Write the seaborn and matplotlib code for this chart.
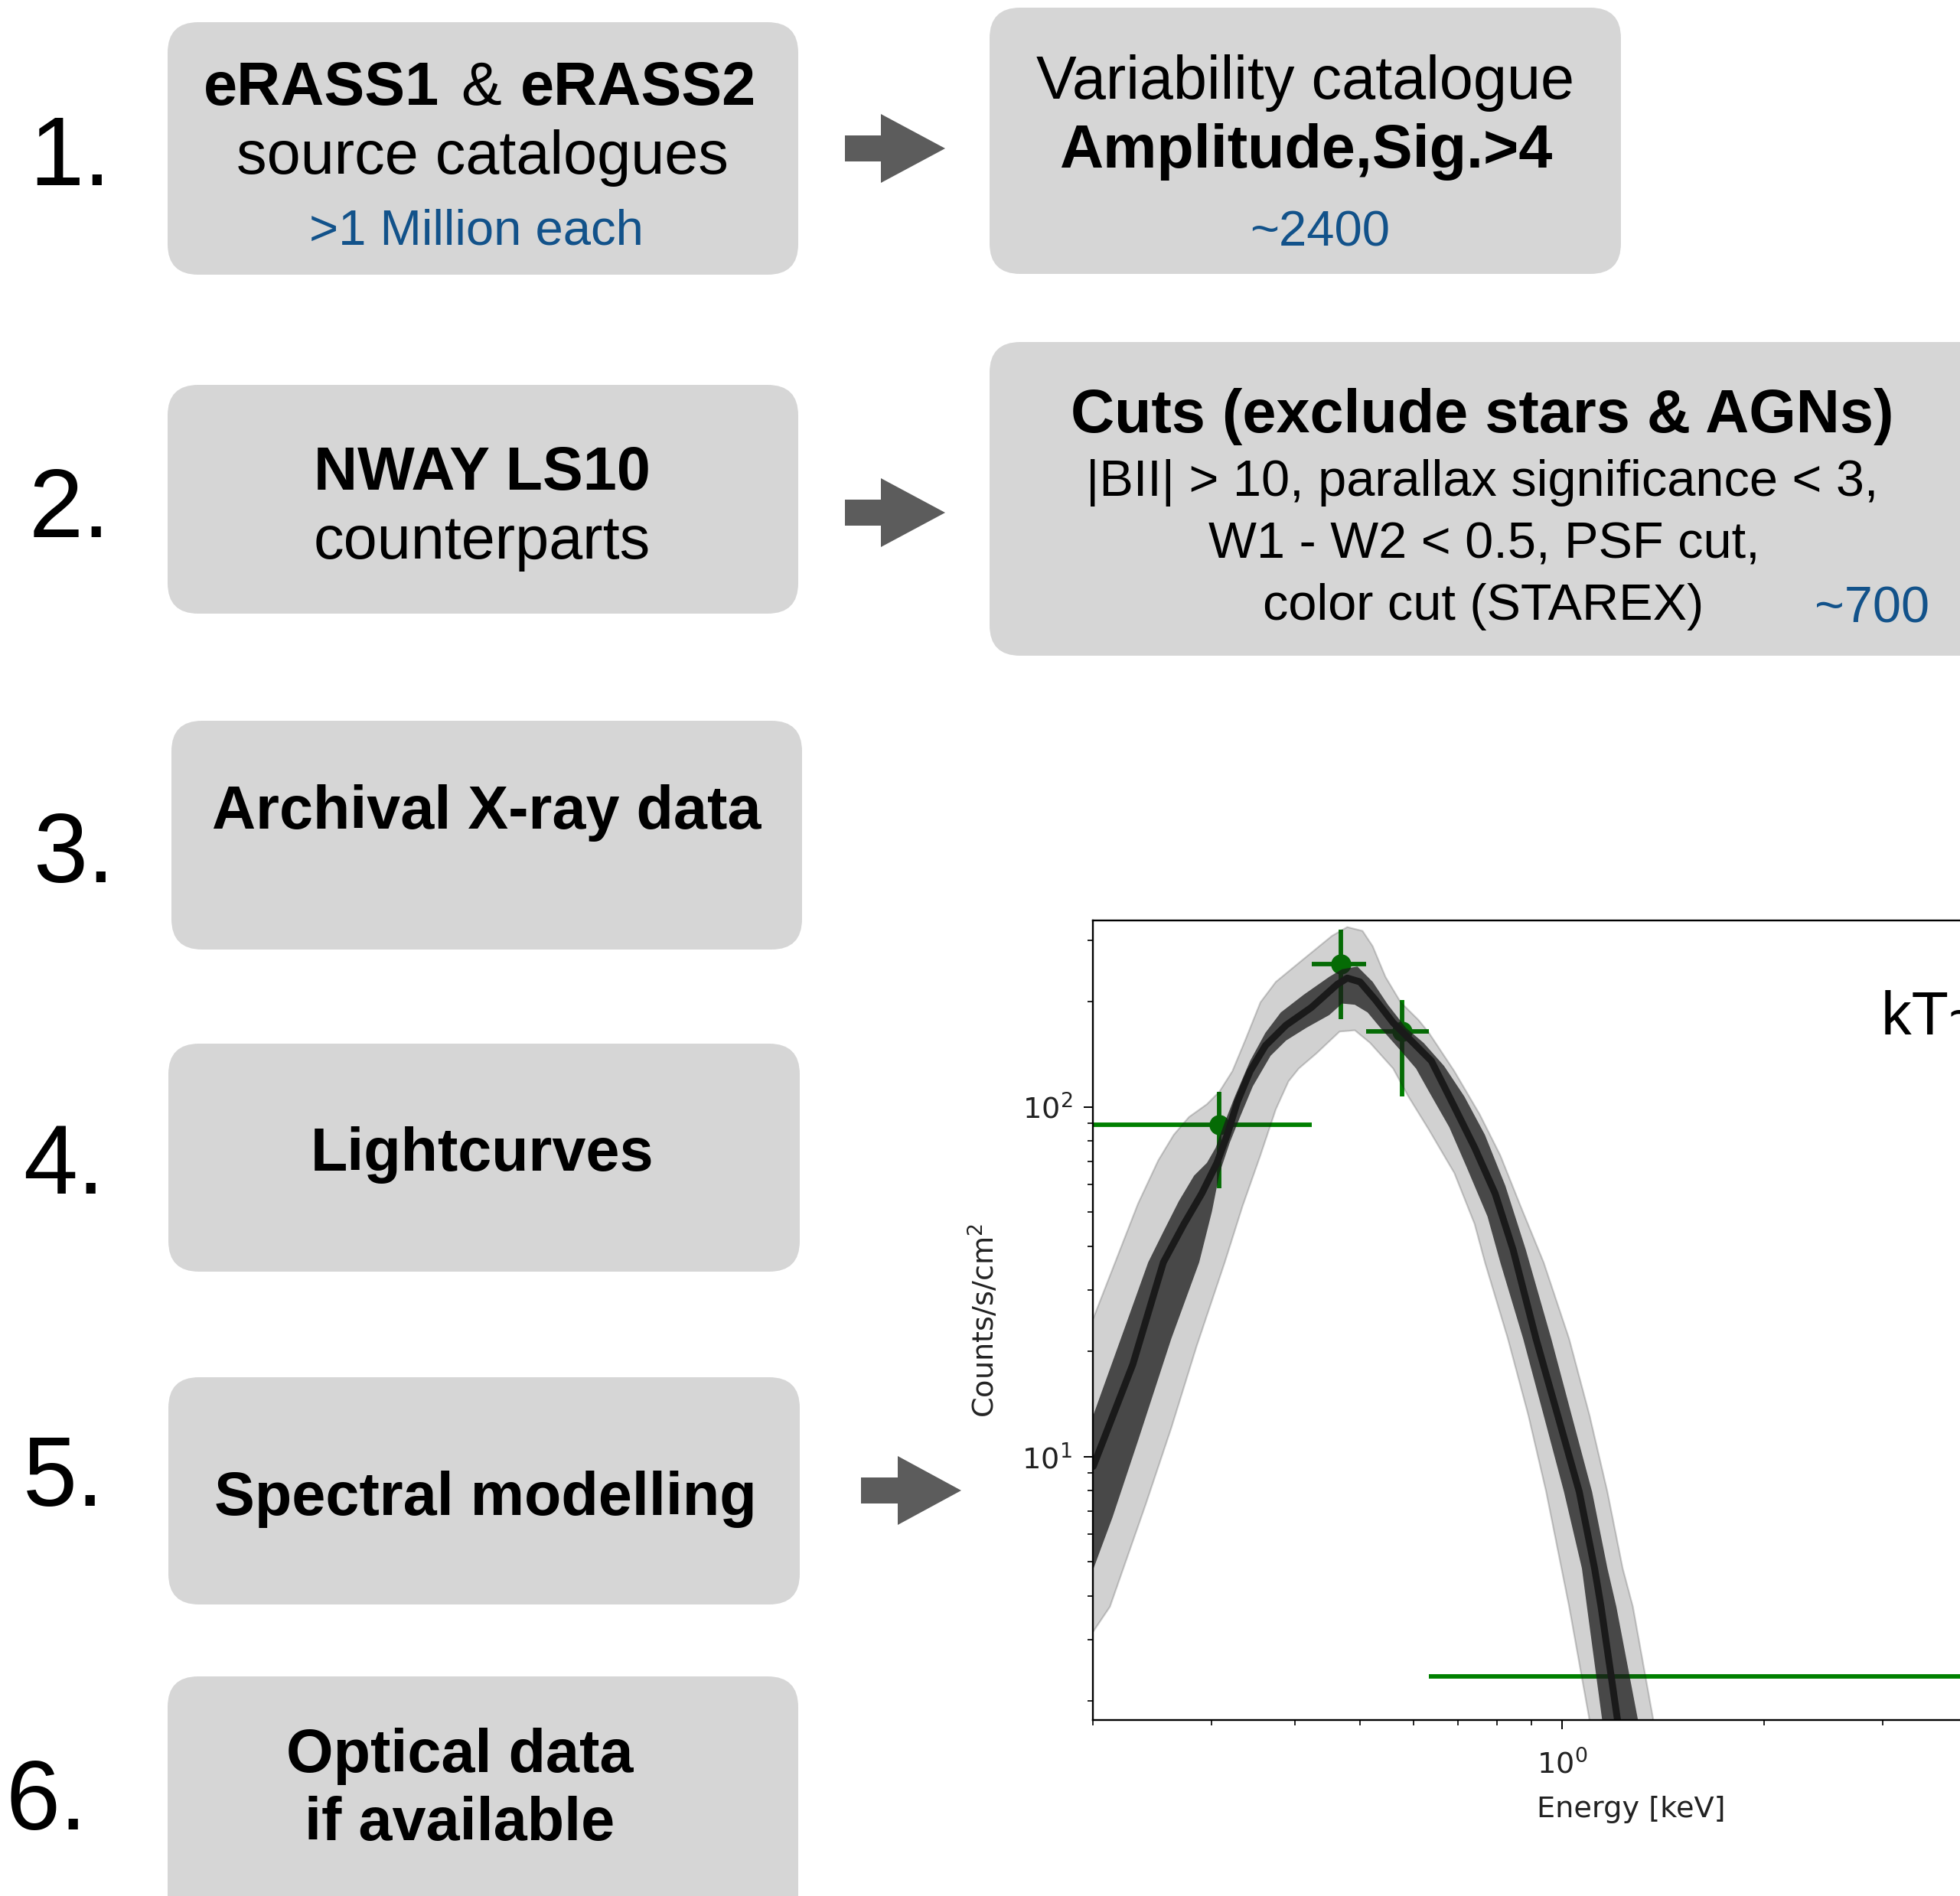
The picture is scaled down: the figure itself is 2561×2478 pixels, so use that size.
import numpy as np
import matplotlib
matplotlib.use("Agg")
import matplotlib.pyplot as plt
import seaborn as sns
from matplotlib.patches import FancyBboxPatch, Polygon
from matplotlib.ticker import LogLocator, NullFormatter

# ---------------- data ----------------
# model median curve
median_energy = [0.2001, 0.2292, 0.2545, 0.2731, 0.2903, 0.3059, 0.3168, 0.3281, 0.3427, 0.3612,
                 0.3877, 0.4230, 0.4619, 0.4783, 0.4997, 0.5266, 0.5598, 0.6003, 0.6383, 0.6906,
                 0.7404, 0.7943, 0.8447, 0.9140, 0.9845, 1.0602, 1.1173, 1.1424, 1.1830, 1.2089, 1.2445]
median_counts = [9.38, 18.37, 35.96, 46.26, 56.57, 69.23, 83.28, 103.6, 126.7, 149.9,
                 171.5, 192.8, 224.3, 233.9, 228.1, 202.8, 174.3, 152.5, 135.5, 100.2,
                 76.56, 56.57, 39.11, 21.73, 13.13, 7.93, 4.79, 3.72, 2.35, 1.76, 1.0]

# outer (light) band
light_hi_energy = [0.2001, 0.2157, 0.2333, 0.2501, 0.2637, 0.2779, 0.2955, 0.3086, 0.3225, 0.3369,
                   0.3551, 0.3743, 0.4121, 0.4538, 0.4783, 0.5040, 0.5219, 0.5452, 0.5745, 0.6109,
                   0.6329, 0.6906, 0.7536, 0.8085, 0.8671, 0.9382, 1.0240, 1.0982, 1.1677, 1.2305,
                   1.2744, 1.3672, 1.462]
light_hi_counts = [24.86, 35.96, 52.91, 70.39, 83.28, 93.67, 101.9, 110.8, 126.7, 155.0,
                   199.4, 228.1, 265.5, 308.8, 327.3, 319.1, 288.5, 235.9, 199.4, 177.4,
                   163.1, 126.7, 95.23, 72.80, 52.02, 35.96, 21.73, 13.13, 7.93, 4.79,
                   3.72, 1.76, 0.85]
light_lo_energy = [0.2, 0.2119, 0.2395, 0.2615, 0.2852, 0.3142, 0.3339, 0.3551, 0.3743, 0.3910,
                   0.4050, 0.4305, 0.4659, 0.4909, 0.5174, 0.5598, 0.5899, 0.6329, 0.6906, 0.7404,
                   0.7670, 0.8299, 0.8902, 0.9464, 0.9974, 1.0240, 1.0982, 1.135]
light_lo_counts = [3.155, 3.72, 7.29, 12.07, 20.66, 35.96, 52.02, 72.80, 98.49, 118.5,
                   128.9, 142.5, 164.4, 165.8, 152.5, 128.9, 107.2, 86.10, 64.74, 46.26,
                   35.96, 21.73, 13.13, 7.93, 4.79, 3.72, 1.76, 1.12]

# inner (dark) band
dark_hi_energy = [0.2001, 0.2234, 0.2416, 0.2545, 0.2684, 0.2828, 0.2955, 0.3046, 0.3142, 0.3253,
                  0.3427, 0.3612, 0.3808, 0.4121, 0.4498, 0.4699, 0.4953, 0.5219, 0.5499, 0.5848,
                  0.6218, 0.6667, 0.7148, 0.7670, 0.8228, 0.8824, 0.9632, 1.0328, 1.1079, 1.1677,
                  1.2040, 1.2970, 1.334]
dark_hi_counts = [13.13, 23.63, 35.96, 43.98, 53.81, 63.65, 69.23, 76.56, 90.56, 107.2,
                  135.5, 163.1, 186.5, 209.7, 235.9, 248.0, 252.3, 228.1, 196.2, 168.6,
                  152.5, 131.1, 107.2, 83.28, 59.50, 39.11, 21.73, 13.13, 7.93, 4.79,
                  3.72, 1.76, 1.12]
dark_lo_energy = [0.2, 0.2138, 0.2333, 0.2615, 0.2878, 0.3007, 0.3086, 0.3197, 0.3311, 0.3459,
                  0.3677, 0.3877, 0.4158, 0.4498, 0.4699, 0.4909, 0.5129, 0.5358, 0.5745, 0.6056,
                  0.6329, 0.6787, 0.7213, 0.7738, 0.8085, 0.8746, 0.9382, 1.0060, 1.0698, 1.0885,
                  1.1470, 1.175]
dark_lo_counts = [4.75, 6.71, 11.10, 21.73, 35.96, 50.31, 64.74, 79.19, 93.67, 114.6,
                  140.2, 155.0, 168.6, 183.4, 197.8, 196.2, 186.5, 168.6, 145.0, 128.9,
                  110.8, 87.6, 66.93, 48.65, 35.96, 21.73, 13.13, 7.93, 4.79, 3.72,
                  1.76, 1.1]

# observed data points (binned)
obs_energy = [0.3086, 0.4678, 0.5771, 5.0]
obs_energy_lo = [0.15, 0.4230, 0.5106, 0.6329]
obs_energy_hi = [0.4230, 0.5106, 0.6329, 8.5]
obs_counts = [89.07, 256.6, 164.4, 2.35]
obs_counts_lo = [58.53, 178.8, 107.2, 2.35]
obs_counts_hi = [110.8, 321.9, 202.2, 2.35]

# flowchart texts
step_labels = ["1.", "2.", "3.", "4.", "5.", "6."]
box1_lines = ["eRASS1", "&", "eRASS2", "source catalogues", ">1 Million each"]
boxv_lines = ["Variability catalogue", "Amplitude,Sig.>4", "~2400"]
box2_lines = ["NWAY LS10", "counterparts"]
boxc_lines = ["Cuts (exclude stars & AGNs)", "|BII| > 10, parallax significance < 3,",
              "W1 - W2 < 0.5, PSF cut,", "color cut (STAREX)", "~700"]
box3_lines = ["Archival X-ray data"]
box4_lines = ["Lightcurves"]
box5_lines = ["Spectral modelling"]
box6_lines = ["Optical data", "if available"]
kt_text = "kT~50 eV"

# ---------------- style ----------------
sns.set_theme(style="ticks")
plt.rcParams["font.family"] = ["DejaVu Sans"]
FONT = ["Liberation Sans", "DejaVu Sans"]
BOX_COLOR = "#d6d6d6"
BLUE = "#12528a"
ARROW_COLOR = "#5c5c5c"
W, H = 2561, 2478

fig = plt.figure(figsize=(W / 100, H / 100), dpi=100)
fig.patch.set_facecolor("white")

# background "canvas" axes in pixel units (y downward)
bg = fig.add_axes([0, 0, 1, 1])
bg.set_xlim(0, W)
bg.set_ylim(H, 0)
bg.axis("off")

def box(x0, y0, x1, y1, r=40):
    bg.add_patch(FancyBboxPatch((x0, y0), x1 - x0, y1 - y0,
                                boxstyle=f"round,pad=0,rounding_size={r}",
                                facecolor=BOX_COLOR, edgecolor="none", zorder=1))

def arrow(x0, xh, x1, cy, sh=17, hh=45):
    pts = [(x0, cy - sh), (xh, cy - sh), (xh, cy - hh), (x1, cy),
           (xh, cy + hh), (xh, cy + sh), (x0, cy + sh)]
    bg.add_patch(Polygon(pts, closed=True, facecolor=ARROW_COLOR, edgecolor="none", zorder=1))

def txt(x, y, s, size=57, weight="normal", color="black", ha="center"):
    bg.text(x, y, s, fontsize=size, fontweight=weight, color=color, ha=ha,
            va="baseline", family=FONT, zorder=3)

# boxes
box(219, 29, 1043, 359)
box(1293, 10, 2118, 358)
box(219, 503, 1043, 802)
box(1293, 447, 2640, 857)
box(224, 942, 1048, 1241)
box(220, 1364, 1045, 1662)
box(220, 1800, 1045, 2097)
box(219, 2191, 1043, 2560)

# arrows
arrow(1104, 1151, 1235, 194)
arrow(1104, 1151, 1235, 670)
arrow(1125, 1173, 1256, 1948)

# step numbers
for s, (x, y) in zip(step_labels, [(92, 242), (91, 702), (96, 1153), (83, 1560), (83, 1968), (61, 2391)]):
    txt(x, y, s, size=92)

# box 1
txt(574, 137, box1_lines[0], weight="bold", ha="right")
txt(629, 137, box1_lines[1])
txt(680, 137, box1_lines[2], weight="bold", ha="left")
txt(630, 227, box1_lines[3])
txt(622, 320, box1_lines[4], size=47, color=BLUE)
# variability box
txt(1706, 129, boxv_lines[0])
txt(1706, 219, boxv_lines[1], weight="bold")
txt(1725, 322, boxv_lines[2], size=47, color=BLUE)
# box 2
txt(630, 640, box2_lines[0], weight="bold")
txt(630, 730, box2_lines[1])
# cuts box
txt(1937, 565, boxc_lines[0], weight="bold")
txt(1937, 648, boxc_lines[1], size=48)
txt(1939, 730, boxc_lines[2], size=48)
txt(1938, 810, boxc_lines[3], size=48)
txt(2446, 813, boxc_lines[4], size=48, color=BLUE)
# boxes 3-6
txt(636, 1083, box3_lines[0], weight="bold")
txt(630, 1530, box4_lines[0], weight="bold")
txt(634, 1980, box5_lines[0], weight="bold")
txt(601, 2316, box6_lines[0], weight="bold")
txt(601, 2405, box6_lines[1], weight="bold")
# annotation on spectrum (runs off the right edge, as in the reference)
txt(2458, 1352, kt_text, ha="left")

# ---------------- spectrum panel ----------------
ax = fig.add_axes([0.55771, 0.09262, 0.54861, 0.42171])
ax.set_facecolor("none")
ax.set_xscale("log")
ax.set_yscale("log")

xerr = [np.array(obs_energy) - np.array(obs_energy_lo), np.array(obs_energy_hi) - np.array(obs_energy)]
yerr = [np.array(obs_counts) - np.array(obs_counts_lo), np.array(obs_counts_hi) - np.array(obs_counts)]
ax.errorbar(obs_energy, obs_counts, xerr=xerr, yerr=yerr, fmt="o", color="green",
            ms=18, elinewidth=4.2, capsize=0, zorder=1)

ax.fill(np.r_[light_hi_energy, light_lo_energy[::-1]], np.r_[light_hi_counts, light_lo_counts[::-1]],
        color="k", alpha=0.2, lw=0, zorder=2)
ax.plot(light_hi_energy, light_hi_counts, color="k", alpha=0.2, lw=1.6, zorder=2)
ax.plot(light_lo_energy, light_lo_counts, color="k", alpha=0.2, lw=1.6, zorder=2)
ax.fill(np.r_[dark_hi_energy, dark_lo_energy[::-1]], np.r_[dark_hi_counts, dark_lo_counts[::-1]],
        color="k", alpha=0.75, lw=0, zorder=3)
sns.lineplot(x=median_energy, y=median_counts, ax=ax, color="k", lw=6.5,
             sort=False, estimator=None, zorder=4)

ax.set_xlim(0.2, 8)
ax.set_ylim(1.76, 341)
for axis in (ax.xaxis, ax.yaxis):
    axis.set_major_locator(LogLocator(base=10, numticks=10))
    axis.set_minor_locator(LogLocator(base=10, subs=np.arange(2, 10) * 1.0, numticks=40))
    axis.set_minor_formatter(NullFormatter())
ax.tick_params(which="major", direction="out", length=8.6, width=1.4, pad=11,
               labelsize=27.5, labelcolor="#222222", color="black")
ax.tick_params(axis="x", which="major", pad=19)
ax.tick_params(which="minor", direction="out", length=5, width=1.2, color="black")
for sp in ax.spines.values():
    sp.set_linewidth(1.7)
    sp.set_color("black")
    sp.set_zorder(10)
ax.set_xlabel("Energy [keV]", fontsize=27.5, color="#222222", labelpad=15)
ax.set_ylabel("Counts/s/cm$^2$", fontsize=27.5, color="#222222", labelpad=20)

fig.savefig("out.png", dpi=100)
